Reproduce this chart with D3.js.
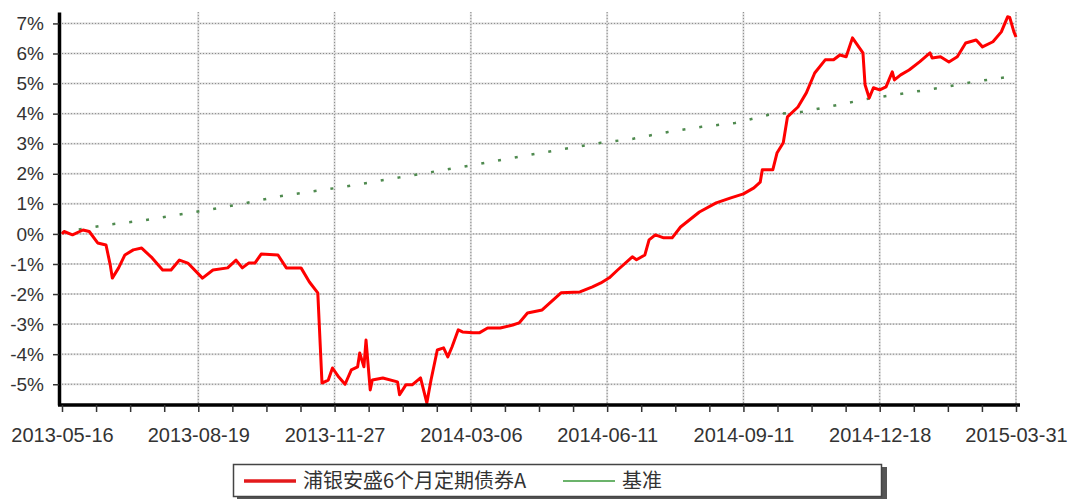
<!DOCTYPE html>
<html>
<head>
<meta charset="utf-8">
<script src="https://cdn.jsdelivr.net/npm/d3@7"></script>
<style>
  body { margin: 0; background: #fff; }
  svg text { font-family: "Liberation Sans", Arial, sans-serif; fill: #333; }
  .legend text { font-family: "Noto Sans CJK SC", "Liberation Sans", sans-serif; }
</style>
</head>
<body>
<script>
"use strict";

// x axis labels, one every 65 trading days
const dateLabels = ["2013-05-16", "2013-08-19", "2013-11-27", "2014-03-06",
                    "2014-06-11", "2014-09-11", "2014-12-18", "2015-03-31"]
const daysPerLabel = 65
const totalDays = 455

const yTicks = [-5, -4, -3, -2, -1, 0, 1, 2, 3, 4, 5, 6, 7]

const seriesNames = ["浦银安盛6个月定期债券A", "基准"]

// fund return (%) by trading day
const fundDays = [0, 1, 5, 10, 13, 17, 21, 23, 24, 27, 30, 34, 38, 43, 48, 52, 56, 60, 67, 72,
    79, 83, 86, 89, 92, 95, 103, 107, 114, 118, 122, 124, 127, 129, 132, 135, 138, 141, 142, 144,
    145, 147, 148, 153, 160, 161, 164, 167, 171, 174, 176, 179, 182, 184, 186, 189, 191, 196, 199, 203,
    209, 215, 218, 222, 229, 238, 247, 253, 257, 261, 265, 272, 274, 278, 280, 283, 287, 291, 295, 304,
    312, 319, 325, 330, 333, 334, 339, 341, 344, 346, 351, 355, 359, 364, 368, 371, 374, 377, 382, 383,
    385, 387, 390, 393, 396, 397, 400, 404, 409, 414, 415, 419, 423, 427, 431, 436, 439, 444, 448, 451,
    452, 454, 455]
const fundValues = [0.0, 0.08, -0.03, 0.13, 0.08, -0.3, -0.37, -1.03, -1.47, -1.13, -0.7, -0.53, -0.47, -0.8, -1.2, -1.2, -0.87, -0.97, -1.47, -1.2,
    -1.13, -0.87, -1.13, -0.97, -0.97, -0.67, -0.7, -1.13, -1.13, -1.6, -1.96, -4.96, -4.86, -4.46, -4.76, -5.0, -4.52, -4.42, -3.96, -4.42,
    -3.53, -5.19, -4.86, -4.79, -4.92, -5.35, -5.02, -5.02, -4.79, -5.62, -4.86, -3.86, -3.79, -4.09, -3.76, -3.19, -3.26, -3.29, -3.29, -3.13,
    -3.13, -3.03, -2.96, -2.63, -2.53, -1.96, -1.93, -1.76, -1.63, -1.46, -1.2, -0.76, -0.86, -0.7, -0.2, -0.03, -0.13, -0.13, 0.23, 0.73,
    1.03, 1.2, 1.33, 1.53, 1.72, 2.13, 2.13, 2.69, 3.03, 3.89, 4.22, 4.69, 5.35, 5.79, 5.79, 5.95, 5.89, 6.52, 6.02, 4.96,
    4.52, 4.86, 4.79, 4.89, 5.39, 5.12, 5.29, 5.45, 5.72, 6.02, 5.85, 5.89, 5.72, 5.89, 6.35, 6.45, 6.22, 6.39, 6.72, 7.22,
    7.2, 6.72, 6.55]

// benchmark return (%) by trading day
const benchDays = [0, 21, 37, 52, 70, 86, 102, 118, 134, 161, 191, 207, 223, 240, 257, 272, 289, 305,
    321, 337, 353, 370, 385, 403, 419, 434, 451]
const benchValues = [0.05, 0.3, 0.43, 0.6, 0.8, 1.0, 1.23, 1.4, 1.56, 1.88, 2.23, 2.43, 2.63, 2.83, 3.03, 3.16, 3.39, 3.56,
    3.69, 3.96, 4.06, 4.29, 4.5, 4.69, 4.86, 5.05, 5.22]

const measurements = { width: 1070, height: 499, left: 62, right: 1016, top: 12, bottom: 405 }

const svg = d3.select("body").append("svg")
    .attr("width", measurements.width)
    .attr("height", measurements.height)

const scaleX = d3.scaleLinear()
    .domain([0, totalDays])
    .range([measurements.left, measurements.right])

const scaleY = d3.scaleLinear()
    .domain([-5.69, 7.38])
    .range([measurements.bottom, measurements.top])

const minorTicks = d3.range(0, totalDays + 1, daysPerLabel / 4)
const majorTicks = dateLabels.map((d, i) => i * daysPerLabel)

// grid: light band with a dotted line on top
function gridLines(sel) {
    sel.append("line").attr("stroke", "#dcdcdc").attr("stroke-width", 2)
    sel.append("line").attr("stroke", "#8a8a8a").attr("stroke-width", 1).attr("stroke-dasharray", "1,2")
}
const grid = svg.append("g")
grid.selectAll(".hgrid").data(yTicks).enter().append("g").attr("class", "hgrid")
    .call(gridLines)
    .selectAll("line")
    .attr("x1", measurements.left).attr("x2", measurements.right)
    .attr("y1", d => scaleY(d)).attr("y2", d => scaleY(d))
grid.selectAll(".vgrid").data(majorTicks.slice(1)).enter().append("g").attr("class", "vgrid")
    .call(gridLines)
    .selectAll("line")
    .attr("x1", d => scaleX(d)).attr("x2", d => scaleX(d))
    .attr("y1", measurements.top).attr("y2", measurements.bottom)

const line = d3.line()
    .x(d => scaleX(d[0]))
    .y(d => scaleY(d[1]))

svg.append("path")
    .datum(d3.zip(benchDays, benchValues))
    .attr("fill", "none")
    .attr("stroke", "#4f8a4f")
    .attr("stroke-width", 2.5)
    .attr("stroke-dasharray", "3,14")
    .attr("d", line)

svg.append("path")
    .datum(d3.zip(fundDays, fundValues))
    .attr("fill", "none")
    .attr("stroke", "#f00")
    .attr("stroke-width", 3)
    .attr("stroke-linejoin", "round")
    .attr("d", line)

// axes
const yAxis = d3.axisLeft(scaleY)
    .tickValues(yTicks)
    .tickFormat(d => d + "%")
    .tickSize(6)
    .tickSizeOuter(0)
    .tickPadding(9)
const gy = svg.append("g")
    .attr("transform", "translate(59,0)")
    .call(yAxis)
gy.select(".domain").attr("stroke", "#000").attr("stroke-width", 3.5)
gy.selectAll(".tick line").attr("stroke", "#333").attr("stroke-width", 1.5)
gy.selectAll("text").attr("font-size", 19).style("font-family", "'Liberation Sans', Arial, sans-serif")

const xAxis = d3.axisBottom(scaleX)
    .tickValues(minorTicks)
    .tickFormat((d, i) => i % 4 === 0 ? dateLabels[i / 4] : "")
    .tickSize(7)
    .tickSizeOuter(0)
    .tickPadding(16)
const gx = svg.append("g")
    .attr("transform", `translate(0,${measurements.bottom})`)
    .call(xAxis)
gx.select(".domain").attr("stroke", "#000").attr("stroke-width", 3.5)
    .attr("d", `M${measurements.left - 4},0H${measurements.right + 4}`)
gx.selectAll(".tick line").attr("stroke", "#333").attr("stroke-width", 1.5)
gx.selectAll("text").attr("font-size", 20).style("font-family", "'Liberation Sans', Arial, sans-serif")

// legend
const legend = svg.append("g").attr("class", "legend")
legend.append("rect")
    .attr("x", 237).attr("y", 467).attr("width", 650).attr("height", 33)
    .attr("fill", "#555")
legend.append("rect")
    .attr("x", 233.5).attr("y", 464.5).attr("width", 648).attr("height", 32)
    .attr("fill", "#fff").attr("stroke", "#444").attr("stroke-width", 1.5)

const legendItems = [
    { name: seriesNames[0], color: "#e31a1c", x: 244 },
    { name: seriesNames[1], color: "#3a9a3a", x: 563 }
]
legendItems.forEach(item => {
    legend.append("line")
        .attr("x1", item.x).attr("x2", item.x + 52)
        .attr("y1", 481).attr("y2", 481)
        .attr("stroke", item.color).attr("stroke-width", item.x < 400 ? 3.5 : 1.5)
    legend.append("text")
        .attr("x", item.x + 59).attr("y", 481).attr("dy", "0.36em")
        .attr("font-size", 20)
        .text(item.name)
})
</script>
</body>
</html>
